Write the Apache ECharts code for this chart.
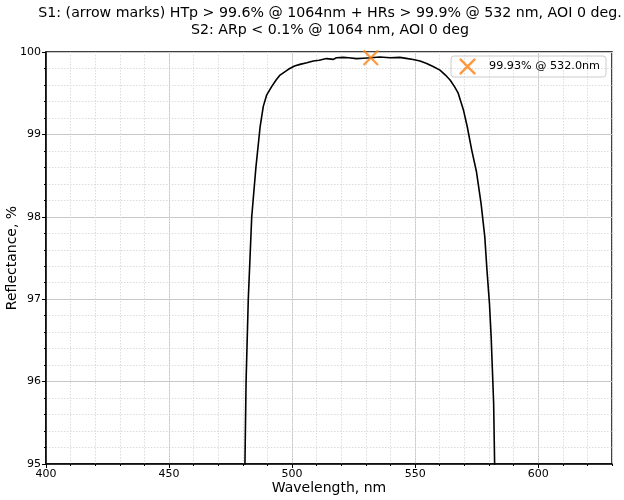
<!DOCTYPE html>
<html><head><meta charset="utf-8">
<script src="https://cdn.jsdelivr.net/npm/echarts@6/dist/echarts.min.js"></script>
<style>html,body{margin:0;padding:0;background:#fff}#c{width:624px;height:500px}</style>
</head><body><div id="c"></div>
<script>
var wavelengths = [480.8,481.3,482.2,483.6,485.3,487.0,488.3,489.7,491.7,493.5,495.1,498.5,501,503.2,506,508.6,511,514,516.8,518,520.8,523,526.2,529,532,535.7,539.8,543.8,547,549.2,552,554.7,557.5,560.1,562.3,564.2,566,567.5,569.6,571.2,573.0,574.9,576.8,578.3,579.2,580.2,580.9,581.4,581.9,582.3,582.5];
var reflectance = [94.9,96.0,97.0,98.0,98.6,99.09,99.34,99.48,99.58,99.66,99.72,99.79,99.83,99.85,99.87,99.89,99.90,99.92,99.91,99.93,99.935,99.93,99.92,99.925,99.93,99.94,99.93,99.935,99.92,99.91,99.89,99.86,99.82,99.78,99.72,99.66,99.58,99.50,99.30,99.09,98.81,98.55,98.16,97.76,97.35,96.95,96.54,96.14,95.74,95.0,94.8];
var markerPoint = [532.0, 99.93];
var markerLabel = '99.93% @ 532.0nm';
var titleText = 'S1: (arrow marks) HTp > 99.6% @ 1064nm + HRs > 99.9% @ 532 nm, AOI 0 deg.\nS2: ARp < 0.1% @ 1064 nm, AOI 0 deg';

var lineData = wavelengths.map(function(w,k){return [w, reflectance[k]];});
var xPath = 'path://M0,1L1,0L10,9L9,10ZM9,0L10,1L1,10L0,9Z';
var font = 'DejaVu Sans';
var chart = echarts.init(document.getElementById('c'), null, {renderer:'canvas'});
chart.setOption({
  animation: false,
  textStyle: {fontFamily: font},
  title: {text: titleText, left: 325, top: 0, textAlign: 'center',
    textStyle: {fontFamily: font, fontSize: 14.2, fontWeight: 'normal', color: '#000', lineHeight: 17}},
  legend: {data: [{name: markerLabel, icon: xPath}], right: 18, top: 56, itemWidth: 17, itemHeight: 17,
    borderColor: '#cccccc', borderWidth: 1, borderRadius: 3, padding: [2, 6, 2, 8], itemGap: 4,
    textStyle: {fontFamily: font, fontSize: 11.2, color: '#000', padding: [0,0,0,8]}},
  grid: {left: 46, right: 12, top: 52, bottom: 36, outerBoundsMode: 'none', containLabel: false, show: true, borderColor: '#000', borderWidth: 1.5, backgroundColor: 'transparent'},
  xAxis: [{
    type: 'value', min: 400, max: 630, interval: 50, position: 'bottom',
    name: 'Wavelength, nm', nameLocation: 'middle', nameGap: 17, nameMoveOverlap: false,
    nameTextStyle: {fontFamily: font, fontSize: 14, color: '#000'},
    axisLine: {show: true, onZero: false, lineStyle: {color: '#000', width: 1.5}},
    axisTick: {show: true, length: 4, lineStyle: {color: '#000'}},
    axisLabel: {fontFamily: font, fontSize: 11, color: '#000', margin: 5, showMaxLabel: false},
    splitLine: {show: true, lineStyle: {color: '#c8c8c8', width: 1}}
  },{
    type: 'value', min: 400, max: 630, interval: 10, position: 'bottom',
    axisLine: {show: false},
    axisTick: {show: true, length: 2, lineStyle: {color: '#000'}},
    axisLabel: {show: false},
    splitLine: {show: true, lineStyle: {color: '#dcdcdc', width: 1, type: [1.5, 1.5]}}
  }],
  yAxis: {
    type: 'value', min: 95, max: 100, interval: 1,
    name: 'Reflectance, %', nameLocation: 'middle', nameGap: 27, nameMoveOverlap: false,
    nameTextStyle: {fontFamily: font, fontSize: 14, color: '#000'},
    axisLine: {show: true, onZero: false, lineStyle: {color: '#000', width: 1.5}},
    axisTick: {show: true, length: 4, lineStyle: {color: '#000'}},
    axisLabel: {fontFamily: font, fontSize: 11, color: '#000', margin: 5},
    splitLine: {show: true, lineStyle: {color: '#c8c8c8', width: 1}},
    minorTick: {show: true, splitNumber: 5, length: 2, lineStyle: {color: '#000'}},
    minorSplitLine: {show: true, lineStyle: {color: '#dcdcdc', width: 1, type: [1.5, 1.5]}}
  },
  series: [{
    type: 'line', data: lineData, xAxisIndex: 0, showSymbol: false, symbol: 'none', clip: true,
    lineStyle: {color: '#000', width: 1.6}, silent: true, z: 3
  },{
    name: markerLabel, type: 'scatter', data: [markerPoint], xAxisIndex: 0,
    symbol: xPath, symbolSize: 16, itemStyle: {color: '#ff7f0e'}, z: 5
  }]
});
</script></body></html>
